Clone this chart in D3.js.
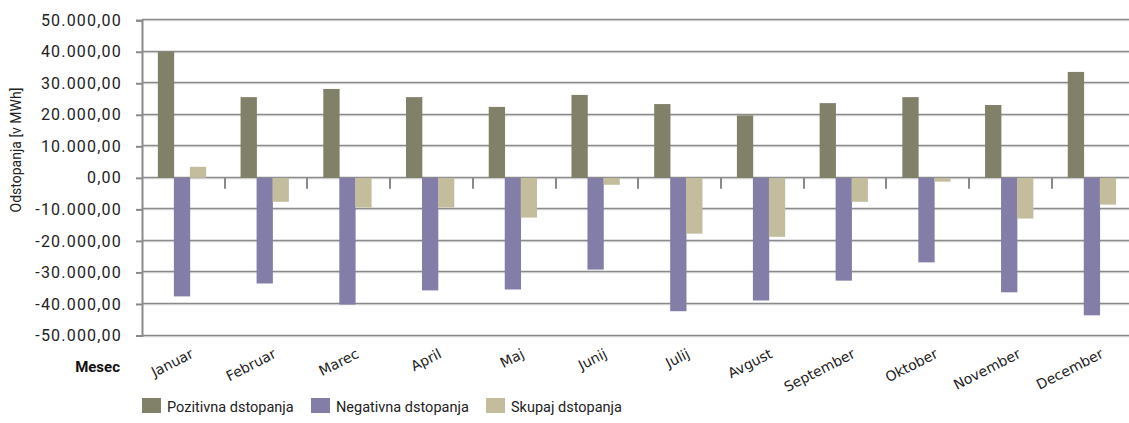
<!DOCTYPE html>
<html>
<head>
<meta charset="utf-8">
<script src="https://cdn.jsdelivr.net/npm/d3@7"></script>
<style>
  html, body { margin: 0; padding: 0; background: #fff; }
  svg { display: block; }
</style>
</head>
<body>
<svg id="chart" width="1129" height="423"></svg>
<script>
const months = ["Januar","Februar","Marec","April","Maj","Junij","Julij","Avgust","September","Oktober","November","December"];
const pozitivna = [40000, 25600, 28200, 25600, 22500, 26300, 23400, 19800, 23700, 25600, 23100, 33600];
const negativna = [-37600, -33500, -40200, -35700, -35400, -29100, -42300, -38900, -32600, -26800, -36300, -43600];
const skupaj = [3500, -7600, -9400, -9400, -12600, -2200, -17700, -18700, -7600, -1200, -12900, -8500];
const seriesNames = ["Pozitivna dstopanja", "Negativna dstopanja", "Skupaj dstopanja"];
const colors = ["#818068", "#837ea8", "#c3bd9e"];
const yTicks = [50000, 40000, 30000, 20000, 10000, 0, -10000, -20000, -30000, -40000, -50000];

const svg = d3.select("#chart");
const x0 = 142, x1 = 142 + 12 * 82.72;
const y = d3.scaleLinear().domain([-50000, 50000]).range([335.5, 20.2]);
const x = d3.scaleBand().domain(months).range([x0, x1]).paddingInner(0).paddingOuter(0);
const inner = d3.scaleBand().domain([0,1,2]).range([0, 48]);

const fmt = v => {
  const s = d3.format(",.2f")(v);
  return s.replace(/,/g, "#").replace(/\./g, ",").replace(/#/g, ".").replace("−", "-");
};

// gridlines
const grid = svg.append("g");
yTicks.forEach(t => {
  const yy = Math.round(y(t));
  grid.append("line").attr("x1", x0).attr("x2", 1129).attr("y1", yy - 0.5).attr("y2", yy - 0.5)
    .attr("stroke", "#8a8a8a").attr("stroke-width", 1.3);
  grid.append("line").attr("x1", x0).attr("x2", 1129).attr("y1", yy + 0.7).attr("y2", yy + 0.7)
    .attr("stroke", "#c8c8c8").attr("stroke-width", 1);
});

// y axis
const yAxis = d3.axisLeft(y).tickValues(yTicks).tickSize(6).tickPadding(14).tickFormat(fmt);
const ya = svg.append("g").attr("transform", `translate(${x0},0)`).call(yAxis);
ya.select(".domain").attr("stroke", "#8a8a8a").attr("stroke-width", 2);
ya.selectAll(".tick line").attr("stroke", "#8a8a8a").attr("stroke-width", 2);
ya.selectAll(".tick text").attr("font-family", "Roboto, sans-serif").attr("font-size", "16px")
  .attr("letter-spacing", "1.2px").attr("fill", "#222");

// bars
const data = [pozitivna, negativna, skupaj];
months.forEach((m, i) => {
  const gx = x(m) + x.bandwidth() / 2 - 24 - 1.5;
  data.forEach((arr, s) => {
    const v = arr[i];
    svg.append("rect")
      .attr("x", gx + inner(s))
      .attr("width", inner.bandwidth() + 0.3)
      .attr("y", Math.min(y(v), y(0)))
      .attr("height", Math.abs(y(v) - y(0)))
      .attr("fill", colors[s]);
  });
});

// category boundary ticks on zero line
months.slice(1).forEach(m => {
  const xx = Math.round(x(m));
  svg.append("line").attr("x1", xx).attr("x2", xx).attr("y1", y(0)).attr("y2", y(0) + 11)
    .attr("stroke", "#8a8a8a").attr("stroke-width", 2);
});

// x labels
months.forEach(m => {
  const cx = x(m) + x.bandwidth() / 2 + 11;
  svg.append("text")
    .attr("transform", `translate(${cx},357) rotate(-27)`)
    .attr("text-anchor", "end")
    .attr("font-family", "DejaVu Sans, sans-serif")
    .attr("font-size", "14px")
    .attr("fill", "#222")
    .text(m);
});

// "Mesec"
svg.append("text").attr("x", 120).attr("y", 372).attr("text-anchor", "end")
  .attr("font-family", "Roboto, sans-serif").attr("font-weight", "bold").attr("font-size", "15px")
  .attr("fill", "#111").text("Mesec");

// y title
svg.append("text")
  .attr("transform", "translate(21,150) rotate(-90)")
  .attr("text-anchor", "middle")
  .attr("font-family", "Roboto, sans-serif").attr("font-size", "14px").attr("fill", "#222")
  .text("Odstopanja [v MWh]");

// legend
const legX = [142, 311, 486];
seriesNames.forEach((n, i) => {
  svg.append("rect").attr("x", legX[i]).attr("y", 398).attr("width", 19).attr("height", 15).attr("fill", colors[i]);
  svg.append("text").attr("x", legX[i] + 25).attr("y", 412)
    .attr("font-family", "Roboto, sans-serif").attr("font-size", "14.5px").attr("fill", "#222").text(n);
});
</script>
</body>
</html>
